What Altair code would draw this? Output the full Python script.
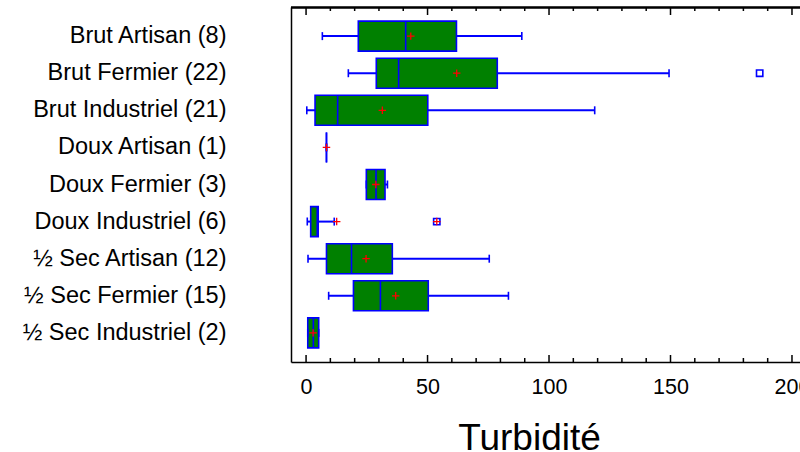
import altair as alt
import pandas as pd

categories = ["Brut Artisan (8)", "Brut Fermier (22)", "Brut Industriel (21)",
              "Doux Artisan (1)", "Doux Fermier (3)", "Doux Industriel (6)",
              "½ Sec Artisan (12)", "½ Sec Fermier (15)", "½ Sec Industriel (2)"]
whisk_lo = [6.7, 17.4, 0.3, 8.4, 24.8, 0.5, 0.8, 9.3, 0.7]
q1 = [21.5, 28.9, 3.7, 8.4, 24.8, 1.9, 8.4, 19.5, 0.7]
median = [41.0, 38.1, 13.0, 8.4, 28.8, 4.6, 18.7, 30.6, 3.0]
q3 = [61.9, 78.7, 50.1, 8.4, 32.5, 5.0, 35.5, 50.3, 5.2]
whisk_hi = [88.8, 149.4, 118.8, 8.4, 33.5, 11.6, 75.4, 83.3, 5.2]
mean = [43.1, 62.0, 31.4, 8.4, 28.7, 12.6, 24.7, 36.9, 2.9]

outlier_cat = ["Brut Fermier (22)", "Doux Industriel (6)"]
outlier_val = [186.7, 53.8]
outlier_far = [False, True]

major_ticks = [0, 50, 100, 150, 200]
minor_ticks = [10, 20, 30, 40, 60, 70, 80, 90, 110, 120, 130, 140, 160, 170, 180, 190]

df = pd.DataFrame({"cat": categories, "lo": whisk_lo, "q1": q1, "med": median,
                   "q3": q3, "hi": whisk_hi, "mean": mean})
out_df = pd.DataFrame({"cat": outlier_cat, "v": outlier_val, "far": outlier_far})
far_df = out_df[out_df["far"]]
maj_df = pd.DataFrame({"v": major_ticks})
min_df = pd.DataFrame({"v": minor_ticks})

W, H = 509, 355
xscale = alt.Scale(domain=[-6.2, 203.3], nice=False, zero=False)
yscale = alt.Scale(domain=categories, paddingInner=0, paddingOuter=0.285)

BLUE = "#0000ff"
GREEN = "#008000"
RED = "#ff0000"
PLUS = "M-1,0L1,0M0,-1L0,1"

xax = alt.Axis(values=major_ticks, tickSize=0, labelFontSize=21.5, labelPadding=14,
               labelColor="black", domainColor="black", domainWidth=1.5,
               grid=False, title="Turbidité", titleFontSize=37, titleFontWeight="normal",
               titleColor="black", titleX=238, titleY=87, titleBaseline="alphabetic",
               titleAlign="center", labelFlush=False)
yax = alt.Axis(title=None, ticks=False, labelFontSize=23.5, labelPadding=65, labelLimit=0,
               labelColor="black", domainColor="black", domainWidth=1.5, grid=False)

base = alt.Chart(df)
X = lambda f: alt.X(f, type="quantitative", scale=xscale, axis=xax)
Y = alt.Y("cat:N", sort=categories, scale=yscale, axis=yax)

whisk = base.mark_rule(color=BLUE, strokeWidth=2).encode(x=X("lo"), x2="hi", y=Y)
box = base.mark_bar(size=30, fill=GREEN, stroke=BLUE, strokeWidth=1.6).encode(
    x=X("q1"), x2="q3", y=Y)
med = base.mark_tick(size=30, thickness=1.6, color=BLUE, opacity=1).encode(x=X("med"), y=Y)
cap_lo = base.mark_tick(size=8, thickness=1.6, color=BLUE, opacity=1).encode(x=X("lo"), y=Y)
cap_hi = base.mark_tick(size=8, thickness=1.6, color=BLUE, opacity=1).encode(x=X("hi"), y=Y)
mean_pt = base.mark_point(shape=PLUS, size=56, filled=False, stroke=RED,
                          strokeWidth=1.3, opacity=1).encode(x=X("mean"), y=Y)
outl = alt.Chart(out_df).mark_point(shape="square", size=40, filled=False, stroke=BLUE,
                                    strokeWidth=1.6, opacity=1).encode(x=X("v"), y=Y)
far = alt.Chart(far_df).mark_point(shape=PLUS, size=56, filled=False, stroke=RED,
                                   strokeWidth=1.3, opacity=1).encode(x=X("v"), y=Y)

def ticks(d, y1, y2):
    return alt.Chart(d).mark_rule(color="black", strokeWidth=1.5).encode(
        x=alt.X("v:Q", scale=xscale, axis=xax), y=alt.value(y1), y2=alt.value(y2))

top_axis = alt.Chart(maj_df).mark_rule(color="black", strokeWidth=1.5).encode(
    x=alt.value(0), x2=alt.value(W), y=alt.value(0.5))

chart = alt.layer(
    whisk, box, med, cap_lo, cap_hi, mean_pt, outl, far,
    ticks(maj_df, H, H - 7), ticks(min_df, H, H - 4),
    ticks(maj_df, 0, 8), ticks(min_df, 0, 4), top_axis,
).properties(
    width=W, height=H,
    padding={"left": 291, "top": 7, "right": 0, "bottom": 90},
    autosize=alt.AutoSizeParams(type="none"),
).configure(font="Liberation Sans").configure_view(stroke=None)

chart.save("out.html", embed_options={"renderer": "svg", "actions": False})
